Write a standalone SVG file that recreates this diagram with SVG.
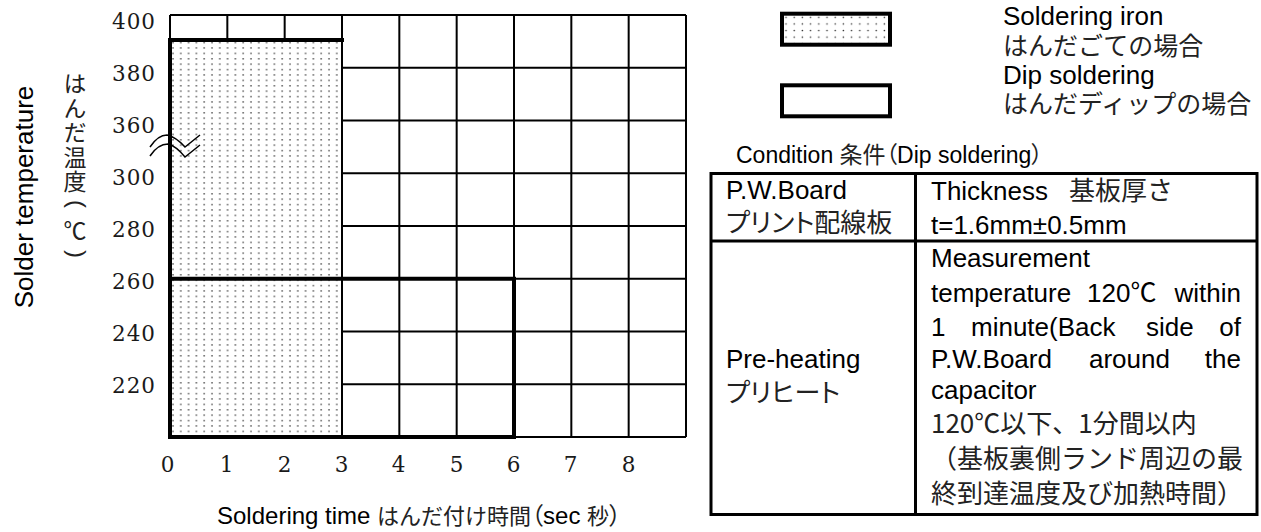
<svg xmlns="http://www.w3.org/2000/svg" width="1261" height="532" viewBox="0 0 1261 532">
<style>
.sans{font-family:"Liberation Sans","Noto Sans CJK JP",Arial,sans-serif;fill:#000}
.jp{font-family:"Noto Sans CJK JP",sans-serif;fill:#222}
.p{font-feature-settings:"palt"}
.num{font-family:"DejaVu Serif","Liberation Serif",serif;font-size:21.5px;fill:#1a1a1a;letter-spacing:1px}
.thin{stroke:#000;stroke-width:2;fill:none}
.thick{stroke:#000;stroke-width:4;fill:none;stroke-linecap:square}
.box{stroke:#000;stroke-width:4}
.tb{stroke:#000;stroke-width:3;fill:none}
.vert{writing-mode:vertical-rl;text-orientation:mixed;letter-spacing:1.5px}
.par{font-family:"Liberation Sans",Arial,sans-serif;font-size:24px;fill:#222}
</style>
<defs>
<pattern id="dots" width="7.8" height="5.4" patternUnits="userSpaceOnUse" x="170" y="40">
<rect width="7.8" height="5.4" fill="#fff"/>
<circle cx="3" cy="2.5" r="0.8" fill="#3a3a3a"/>
</pattern>
<pattern id="dots2" width="8.2" height="6.6" patternUnits="userSpaceOnUse" x="782" y="14">
<rect width="8.2" height="6.6" fill="#fff"/>
<circle cx="4" cy="3.3" r="0.8" fill="#3a3a3a"/>
</pattern>
</defs>
<rect width="1261" height="532" fill="#fff"/>

<g id="grid">
<path class="thin" d="M170,15H686M170,67.75H686M170,120.5H686M170,173.25H686M170,226H686M170,278.75H686M170,331.5H686M170,384.25H686M170,437H686
M170,15V437M227.33,15V437M284.67,15V437M342,15V437M399.33,15V437M456.67,15V437M514,15V437M571.33,15V437M628.67,15V437M686,15V437"/>
</g>

<g id="soldering-iron-area">
<rect x="170" y="40" width="172" height="397" fill="url(#dots)"/>
<path class="thin" d="M342,40V437"/>
</g>

<g id="dip-soldering-area">
<path class="thick" d="M342,40H170V437H514V278.75H170"/>
</g>

<g id="break-mark">
<path d="M150,147Q158,135 167,135Q176,137 185,147L200,135" fill="none" stroke="#000" stroke-width="1.5"/>
<path d="M150,156Q158,144 168,144Q176,146 185,157L200,145" fill="none" stroke="#000" stroke-width="1.5"/>
</g>

<g id="y-ticks" class="num" text-anchor="end">
<text x="156" y="29">400</text>
<text x="156" y="81">380</text>
<text x="156" y="133">360</text>
<text x="156" y="185">300</text>
<text x="156" y="237">280</text>
<text x="156" y="289">260</text>
<text x="156" y="341">240</text>
<text x="156" y="393">220</text>
</g>

<g id="x-ticks" class="num" text-anchor="middle">
<text x="168" y="472">0</text>
<text x="227" y="472">1</text>
<text x="285" y="472">2</text>
<text x="342" y="472">3</text>
<text x="399" y="472">4</text>
<text x="457" y="472">5</text>
<text x="514" y="472">6</text>
<text x="571" y="472">7</text>
<text x="629" y="472">8</text>
</g>

<g id="y-title">
<text class="sans" font-size="26" text-anchor="middle" transform="translate(33,197) rotate(-90)">Solder temperature</text>
<text class="jp vert" font-size="23" x="75" y="72">はんだ温度</text>
<text class="par" text-anchor="middle" x="0" y="6" transform="translate(75,204) rotate(90)">(</text>
<text class="jp" font-size="23" x="75" y="239" text-anchor="middle">℃</text>
<text class="par" text-anchor="middle" x="0" y="6" transform="translate(75,254) rotate(90)">)</text>
</g>

<g id="x-title">
<text class="sans" font-size="24" x="217" y="524">Soldering time <tspan class="jp" font-size="22">はんだ付け時間</tspan><tspan class="jp p">（</tspan>sec <tspan class="jp" font-size="22">秒</tspan><tspan class="jp p">）</tspan></text>
</g>

<g id="legend-iron">
<rect x="782" y="13.7" width="108" height="31" fill="url(#dots2)" class="box"/>
<text class="sans" font-size="26" x="1003" y="25">Soldering iron</text>
<text class="jp" font-size="25" x="1003" y="55">はんだごての場合</text>
</g>

<g id="legend-dip">
<rect x="782" y="85.3" width="108" height="31" fill="#fff" class="box"/>
<text class="sans" font-size="26" x="1003" y="84">Dip soldering</text>
<text class="jp" font-size="25" x="1003" y="113">はんだディップの場合</text>
</g>

<g id="condition-table">
<text class="sans" font-size="23" x="736" y="163">Condition <tspan class="jp">条件</tspan><tspan class="jp p">（</tspan>Dip soldering<tspan class="jp p">）</tspan></text>
<rect x="711" y="173.5" width="546" height="341" class="tb"/>
<path class="tb" d="M915.5,173.5V514.5M711,241H1257"/>
<g class="sans" font-size="26">
<text x="726" y="199">P.W.Board</text>
<text class="jp p" x="726" y="232">プリント配線板</text>
<text x="931" y="200">Thickness</text>
<text class="jp" x="1069" y="200">基板厚さ</text>
<text x="931" y="234">t=1.6mm±0.5mm</text>
<text x="931" y="267">Measurement</text>
<text x="931" y="302">temperature</text>
<text x="1087" y="302">120℃</text>
<text x="1241" y="302" text-anchor="end">within</text>
<text x="931" y="336">1</text>
<text x="971" y="336">minute(Back</text>
<text x="1146" y="336">side</text>
<text x="1241" y="336" text-anchor="end">of</text>
<text x="931" y="368">P.W.Board</text>
<text x="1089" y="368">around</text>
<text x="1241" y="368" text-anchor="end">the</text>
<text x="931" y="399">capacitor</text>
<text x="726" y="368">Pre-heating</text>
<text class="jp p" x="726" y="402">プリヒート</text>
<text class="jp" x="931" y="433">120℃以下、1分間以内</text>
<text class="jp" x="931" y="468">（基板裏側ランド周辺の最</text>
<text class="jp" x="931" y="503">終到達温度及び加熱時間）</text>
</g>
</g>
</svg>
